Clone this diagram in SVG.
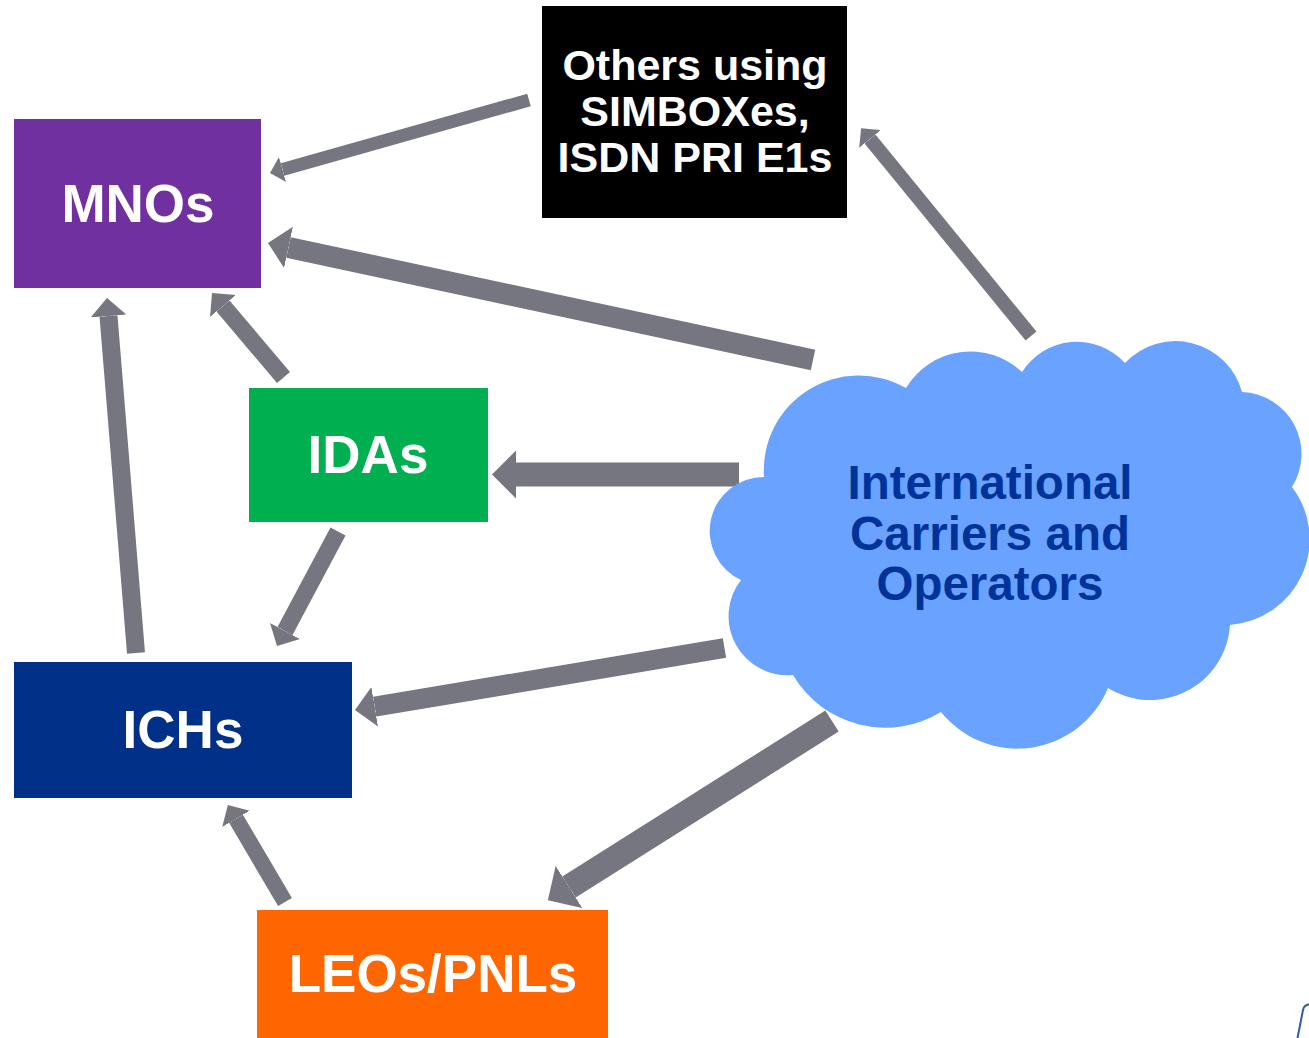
<svg xmlns="http://www.w3.org/2000/svg" width="1309" height="1038" viewBox="0 0 1309 1038">
<style>
.lbl{font-family:"Liberation Sans",Arial,Helvetica,sans-serif;font-weight:bold;text-anchor:middle}
.w{fill:#ffffff}
.big{font-size:53px}
.mid{font-size:43px}
.cl{font-size:47.5px;fill:#003399}
.conn{stroke:#75767F;fill:none;stroke-linecap:butt;marker-end:url(#head)}
</style>
<defs>
<marker id="head" viewBox="0 0 1 2" markerWidth="1" markerHeight="2" refX="0" refY="1" orient="auto" markerUnits="strokeWidth">
<path d="M0,0 L1,1 L0,2 Z" fill="#75767F"/>
</marker>
</defs>
<rect width="1309" height="1038" fill="#ffffff"/>
<g id="connectors">
<line class="conn" x1="529" y1="100" x2="282.5" y2="169.5" stroke-width="13"/>
<line class="conn" x1="813" y1="360" x2="288.5" y2="247.4" stroke-width="21"/>
<line class="conn" x1="283.5" y1="377.5" x2="223" y2="306" stroke-width="17"/>
<line class="conn" x1="739" y1="474.5" x2="516" y2="474.5" stroke-width="24"/>
<line class="conn" x1="338" y1="531.5" x2="285" y2="631" stroke-width="17"/>
<line class="conn" x1="136" y1="653" x2="108.5" y2="316" stroke-width="18"/>
<line class="conn" x1="724.5" y1="648" x2="374.7" y2="706.7" stroke-width="20"/>
<line class="conn" x1="832" y1="721" x2="569" y2="887" stroke-width="25"/>
<line class="conn" x1="285" y1="902" x2="236" y2="818.8" stroke-width="16"/>
<line class="conn" x1="1031" y1="336" x2="870" y2="139" stroke-width="14"/>
</g>
<g id="others">
<rect x="542" y="6" width="305" height="212" fill="#000000"/>
<text class="lbl w mid" x="695" y="80">Others using</text>
<text class="lbl w mid" x="695" y="126">SIMBOXes,</text>
<text class="lbl w mid" x="695" y="172">ISDN PRI E1s</text>
</g>
<g id="mnos">
<rect x="14" y="119" width="247" height="169" fill="#7030A0"/>
<text class="lbl w big" x="138" y="222">MNOs</text>
</g>
<g id="idas">
<rect x="249" y="388" width="239" height="134" fill="#00B050"/>
<text class="lbl w big" x="368" y="473">IDAs</text>
</g>
<g id="ichs">
<rect x="14" y="662" width="338" height="136" fill="#003087"/>
<text class="lbl w big" x="183" y="748">ICHs</text>
</g>
<g id="leos">
<rect x="257" y="910" width="351" height="128" fill="#FF6600"/>
<text class="lbl w big" x="433" y="992">LEOs/PNLs</text>
</g>
<g id="cloud">
<path fill="#6AA2FF" d="M741,580 A54,54 0 0 1 764,477 A95,95 0 0 1 906,388 A75,75 0 0 1 1022,372 A65,65 0 0 1 1125,363 A69,69 0 0 1 1242,392 A62,62 0 0 1 1292,487 A86,86 0 0 1 1230,625 A80,80 0 0 1 1108,688 A98,98 0 0 1 941,712 A107,107 0 0 1 793,675 A59,59 0 0 1 741,580 Z"/>
<text class="lbl cl" x="990" y="499">International</text>
<text class="lbl cl" x="990" y="550">Carriers and</text>
<text class="lbl cl" x="990" y="600">Operators</text>
</g>
<path d="M1297.5,1038 L1303,1010 Q1304,1005 1309,1004.5" fill="none" stroke="#2F5FA0" stroke-width="2"/>
</svg>
